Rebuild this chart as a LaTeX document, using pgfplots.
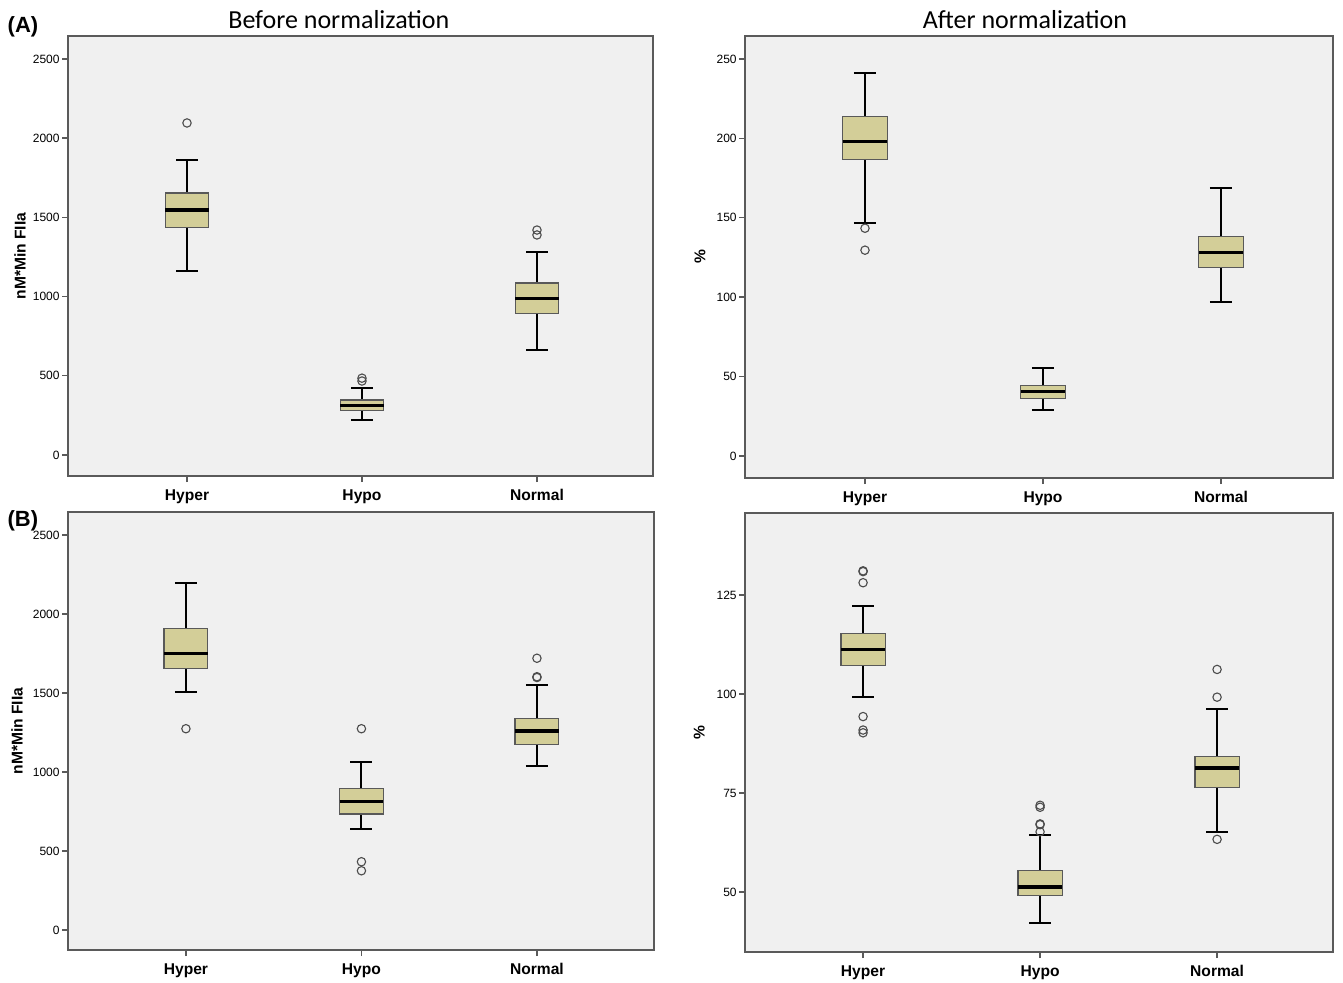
\documentclass[border=0pt]{standalone}
\usepackage{pgfplots}
\pgfplotsset{compat=1.18}
\usepgfplotslibrary{statistics}
\usepackage{fontspec}
\setmainfont{Liberation Sans}
\newfontfamily\titlefont{Carlito}
\definecolor{bgc}{RGB}{240,240,240}
\definecolor{boxc}{RGB}{211,206,152}
\definecolor{framec}{RGB}{90,90,90}
\pgfplotsset{
  spss/.style={
    scale only axis,
    clip mode=individual,
    axis background/.style={fill=bgc},
    axis line style={draw=framec, line width=0.8pt},
    tick style={draw=framec, line width=0.7pt},
    major tick length=3pt,
    tick align=outside,
    tick pos=left,
    xtick={0,1,2},
    xticklabels={Hyper,Hypo,Normal},
    /pgf/number format/assume math mode=true,
    /pgf/number format/1000 sep={},
    yticklabel style={font=\fontsize{6}{7}\selectfont, inner sep=1pt},
    xticklabel style={font=\fontsize{7.8}{9}\selectfont\bfseries, inner sep=1.5pt, yshift=-2pt},
    ylabel style={font=\fontsize{7.8}{9}\selectfont\bfseries, anchor=center},
    boxplot/draw direction=y,
    boxplot/box extend=0.25,
    boxplot/whisker extend=0.125,
    boxplot/every box/.style={draw=black!65, fill=boxc, line width=0.6pt},
    boxplot/every whisker/.style={black, line width=1pt},
    boxplot/every median/.style={black, line width=1.7pt},
  },
  bx/.style={mark=o, mark size=2.1pt, mark options={draw=black!70, line width=0.55pt, fill=none}, black},
}
\begin{document}
\begin{tikzpicture}
\useasboundingbox (0,0) rectangle (671.5pt,491pt);
% ---------------- A left
\begin{axis}[spss, at={(34pt,253pt)}, anchor=south west,
  width=292.5pt, height=220pt,
  xmin=-0.68, xmax=2.663, ymin=-132.6, ymax=2645,
  ytick={0,500,1000,1500,2000,2500},
  ylabel={nM*Min FIIa},
  ylabel style={at={(axis description cs:-0.082,0.5)}},
]
\addplot[bx, boxplot prepared={draw position=0, lower whisker=1163, lower quartile=1435, median=1547, upper quartile=1654, upper whisker=1864}] coordinates {(0,2096)};
\addplot[bx, boxplot prepared={draw position=1, lower whisker=223, lower quartile=280, median=314, upper quartile=347, upper whisker=421}] coordinates {(1,485) (1,467)};
\addplot[bx, boxplot prepared={draw position=2, lower whisker=663, lower quartile=894, median=989, upper quartile=1086, upper whisker=1283}] coordinates {(2,1420) (2,1389)};
\node[anchor=base, font=\titlefont\fontsize{13}{15}\selectfont] at (axis description cs:0.463,1.018) {Before normalization};
\node[anchor=base, font=\fontsize{11}{13}\selectfont\bfseries] at (axis description cs:-0.077,1.009) {(A)};
\end{axis}
% ---------------- A right
\begin{axis}[spss, at={(372.5pt,252pt)}, anchor=south west,
  width=294pt, height=221pt,
  xmin=-0.674, xmax=2.629, ymin=-13.8, ymax=264.4,
  ytick={0,50,100,150,200,250},
  ylabel={\%},
  ylabel style={at={(axis description cs:-0.0765,0.5)}},
]
\addplot[bx, boxplot prepared={draw position=0, lower whisker=146.8, lower quartile=186.8, median=198, upper quartile=213.6, upper whisker=241.4}] coordinates {(0,143.4) (0,129.6)};
\addplot[bx, boxplot prepared={draw position=1, lower whisker=28.9, lower quartile=36.4, median=40.8, upper quartile=44.6, upper whisker=55.3}] coordinates {};
\addplot[bx, boxplot prepared={draw position=2, lower whisker=96.7, lower quartile=118.7, median=128.1, upper quartile=138.2, upper whisker=169}] coordinates {};
\node[anchor=base, font=\titlefont\fontsize{13}{15}\selectfont] at (axis description cs:0.476,1.018) {After normalization};
\end{axis}
% ---------------- B left
\begin{axis}[spss, at={(34pt,16pt)}, anchor=south west,
  width=293pt, height=219pt,
  xmin=-0.672, xmax=2.667, ymin=-126.6, ymax=2645.6,
  ytick={0,500,1000,1500,2000,2500},
  ylabel={nM*Min FIIa},
  ylabel style={at={(axis description cs:-0.087,0.5)}},
]
\addplot[bx, boxplot prepared={draw position=0, lower whisker=1506, lower quartile=1654, median=1751, upper quartile=1909, upper whisker=2194}] coordinates {(0,1274)};
\addplot[bx, boxplot prepared={draw position=1, lower whisker=639, lower quartile=734, median=812, upper quartile=894, upper whisker=1063}] coordinates {(1,1274) (1,432) (1,375)};
\addplot[bx, boxplot prepared={draw position=2, lower whisker=1036, lower quartile=1173, median=1259, upper quartile=1340, upper whisker=1553}] coordinates {(2,1720) (2,1603) (2,1598)};
\node[anchor=base, font=\fontsize{11}{13}\selectfont\bfseries] at (axis description cs:-0.077,0.966) {(B)};
\end{axis}
% ---------------- B right
\begin{axis}[spss, at={(372.5pt,15pt)}, anchor=south west,
  width=294pt, height=219.5pt,
  xmin=-0.667, xmax=2.655, ymin=34.85, ymax=145.7,
  ytick={50,75,100,125},
  ylabel={\%},
  ylabel style={at={(axis description cs:-0.078,0.5)}},
]
\addplot[bx, boxplot prepared={draw position=0, lower whisker=99.2, lower quartile=107.2, median=111.3, upper quartile=115.2, upper whisker=122.1}] coordinates {(0,131.1) (0,130.9) (0,128.1) (0,94.3) (0,90.9) (0,90.2)};
\addplot[bx, boxplot prepared={draw position=1, lower whisker=42.2, lower quartile=49.2, median=51.3, upper quartile=55.4, upper whisker=64.3}] coordinates {(1,71.9) (1,71.4) (1,67.2) (1,67.0) (1,65.2)};
\addplot[bx, boxplot prepared={draw position=2, lower whisker=65.2, lower quartile=76.3, median=81.3, upper quartile=84.3, upper whisker=96.2}] coordinates {(2,106.2) (2,99.2) (2,63.3)};
\end{axis}
\end{tikzpicture}
\end{document}
